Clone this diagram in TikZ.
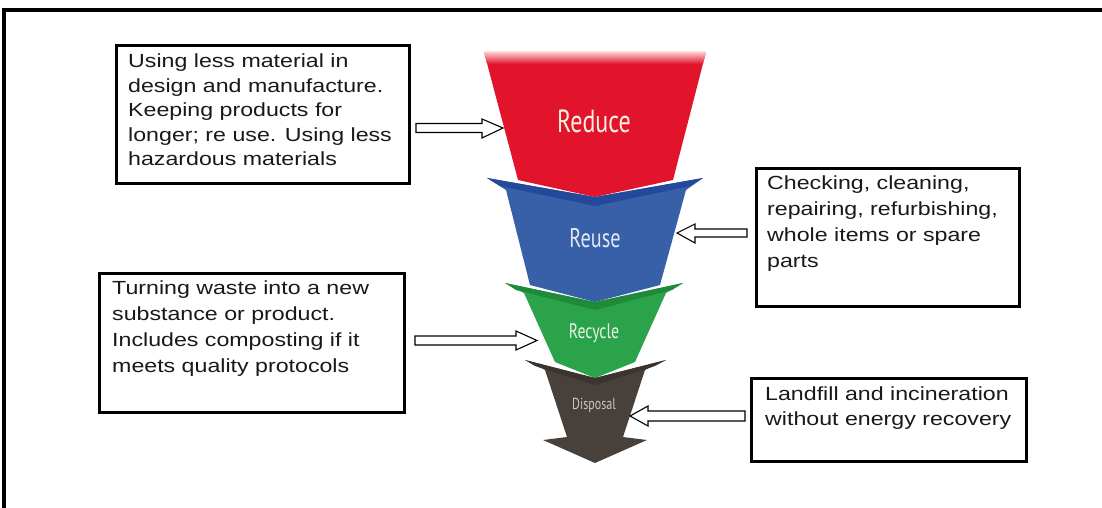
\documentclass[tikz,border=0pt]{standalone}
\usepackage{fontspec}
\setmainfont{Liberation Sans}
\newfontfamily\boxfont[FakeStretch=1.22]{Liberation Sans}
\newfontfamily\shapefont[FakeStretch=0.75]{PT Sans}
\definecolor{redc}{HTML}{E2142C}
\definecolor{bluec}{HTML}{3760A8}
\definecolor{bluedk}{HTML}{24489A}
\definecolor{greenc}{HTML}{2BA34B}
\definecolor{greendk}{HTML}{1E8A3A}
\definecolor{darkc}{HTML}{48403A}
\definecolor{darkdk}{HTML}{3A332E}
\tikzset{
  box/.style={draw=black, line width=2.8pt, fill=white, inner sep=0pt, anchor=north west},
  boxtext/.style={anchor=north west, inner sep=0pt, align=left, text=black!90},
  blockarrow/.style={draw=black, line width=1.1pt, fill=white, line join=miter},
  frame/.style={line width=3.6pt, black},
}
\begin{document}
\begin{tikzpicture}[x=1pt,y=-1pt]
\useasboundingbox (0,0) rectangle (1102,508);
% frame (top and left visible)
\draw[frame] (4,510) -- (4,10) -- (1104,10);

% ---- funnel bands ----
% Reduce
\fill[redc] (484,52) -- (706,52) -- (673,180) -- (595,197) -- (518,180) -- cycle;
\begin{scope}
  \clip (484,52) -- (706,52) -- (673,180) -- (595,197) -- (518,180) -- cycle;
  \shade[top color=red!15!white, bottom color=redc] (480,51) rectangle (710,64);
\end{scope}
% Reuse
\fill[bluec] (487,178) -- (595,197) -- (703,178) -- (686,190) -- (660,285) -- (595,302) -- (530,285) -- (506,190) -- cycle;
\fill[bluedk] (487,178) -- (595,197) -- (703,178) -- (690,186) -- (595,206) -- (500,186) -- cycle;
% Recycle
\fill[greenc] (505,283) -- (595,302) -- (683,283) -- (666,293) -- (635,362) -- (595,378) -- (555,362) -- (524,293) -- cycle;
\fill[greendk] (505,283) -- (595,302) -- (683,283) -- (672,290) -- (595,310) -- (516,290) -- cycle;
% Disposal
\fill[darkc] (525,360) -- (595,378) -- (666,360) -- (645,370) -- (623,437) -- (647,440) -- (595,463) -- (543,440) -- (567,437) -- (545,370) -- cycle;
\fill[darkdk] (525,360) -- (595,378) -- (666,360) -- (655,366) -- (595,385) -- (535,366) -- cycle;

% band labels
\node[font={\shapefont\fontsize{32}{34}\selectfont}, text={rgb,255:red,250;green,238;blue,222}] (lreduce) at (594,121) {Reduce};
\node[font={\shapefont\fontsize{27}{29}\selectfont}, text={rgb,255:red,225;green,232;blue,245}] (lreuse) at (595,238) {Reuse};
\node[font={\shapefont\fontsize{21}{23}\selectfont}, text={rgb,255:red,230;green,245;blue,230}] (lrecycle) at (594,333) {Recycle};
\node[font={\shapefont\fontsize{16}{18}\selectfont}, text={rgb,255:red,205;green,198;blue,190}] (ldisposal) at (594,405) {Disposal};

% ---- text boxes ----
\node[box, minimum width=293pt, minimum height=138pt] (b1) at (115,44) {};
\node[boxtext, font={\boxfont\fontsize{19}{24.4}\selectfont}] (t1) at (128,54)
  {Using less material in\\design and manufacture.\\Keeping products for\\longer; re use. Using less\\hazardous materials};

\node[box, minimum width=263pt, minimum height=138pt] (b2) at (755,167) {};
\node[boxtext, font={\boxfont\fontsize{19}{26}\selectfont}] (t2) at (767,176)
  {Checking, cleaning,\\repairing, refurbishing,\\whole items or spare\\parts};

\node[box, minimum width=305pt, minimum height=139pt] (b3) at (98,272) {};
\node[boxtext, font={\boxfont\fontsize{19}{26}\selectfont}] (t3) at (112,281)
  {Turning waste into a new\\substance or product.\\Includes composting if it\\meets quality protocols};

\node[box, minimum width=275pt, minimum height=83pt] (b4) at (750,377) {};
\node[boxtext, font={\boxfont\fontsize{19}{25}\selectfont}] (t4) at (765,387)
  {Landfill and incineration\\without energy recovery};

% ---- block arrows ----
\draw[blockarrow] (416,123.5) -- (482,123.5) -- (482,119) -- (503,128) -- (482,138) -- (482,132.5) -- (416,132.5) -- cycle;
\draw[blockarrow] (747,229) -- (695,229) -- (695,224) -- (677,233) -- (695,243) -- (695,237) -- (747,237) -- cycle;
\draw[blockarrow] (415,336) -- (516,336) -- (516,331) -- (537,340.5) -- (516,350) -- (516,345) -- (415,345) -- cycle;
\draw[blockarrow] (745,411) -- (648,411) -- (648,406) -- (630,416) -- (648,426) -- (648,421) -- (745,421) -- cycle;
\end{tikzpicture}
\end{document}
